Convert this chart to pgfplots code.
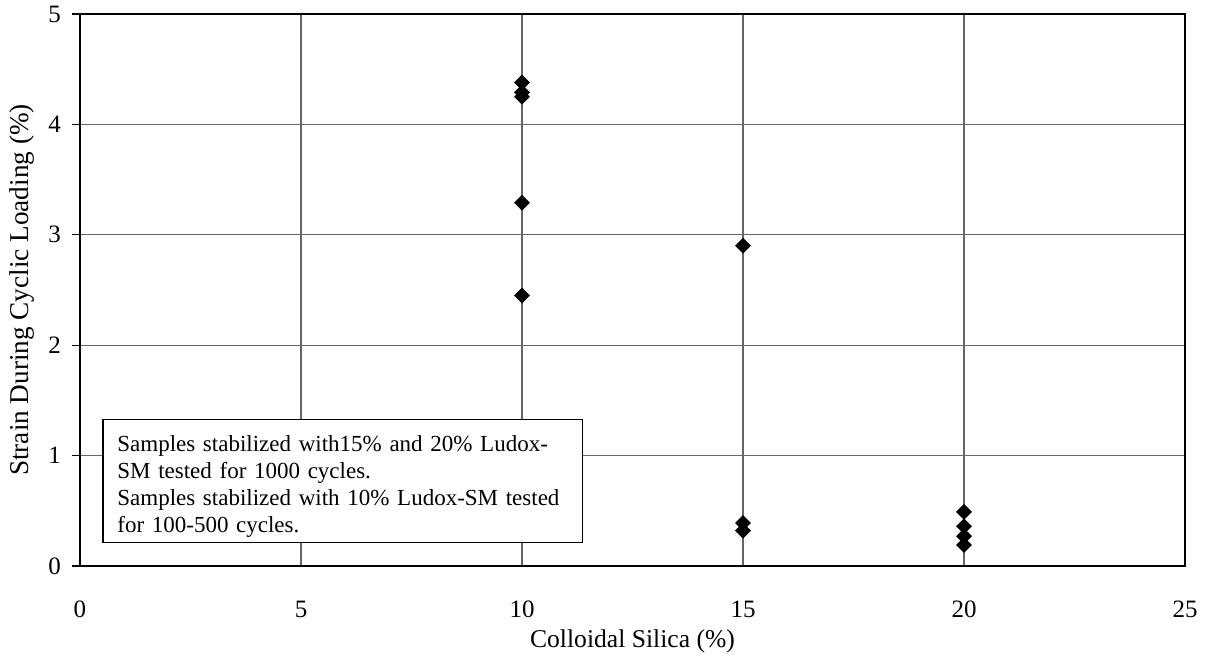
\documentclass[border=0pt]{standalone}
\usepackage{pgfplots}
\pgfplotsset{compat=1.18}
\usepackage{fontspec}
\setmainfont{Liberation Serif}
\usetikzlibrary{calc}
\begin{document}
\begin{tikzpicture}
\begin{axis}[
  scale only axis,
  width=552.5pt, height=276pt,
  xmin=0, xmax=25, ymin=0, ymax=5,
  xtick={0,5,10,15,20,25},
  ytick={0,1,2,3,4,5},
  ytick pos=left,
  grid=major,
  major grid style={black!60, line width=0.6pt},
  axis line style={black, line width=0.7pt},
  tick align=outside,
  x tick style={draw=none},
  y tick style={black, line width=0.6pt},
  major tick length=4pt,
  /pgf/number format/assume math mode=true,
  tick label style={font=\fontsize{12.5}{14}\selectfont},
  xticklabel style={yshift=-10pt},
  yticklabel style={xshift=-2pt},
  xlabel={Colloidal Silica (\%)},
  ylabel={Strain During Cyclic Loading (\%)},
  xlabel style={font=\fontsize{12.8}{14}\selectfont, yshift=1pt},
  ylabel style={font=\fontsize{13.6}{15}\selectfont, yshift=0pt},
  clip=false,
]
\addplot[only marks, mark=square*, mark size=2.6pt, mark options={rotate=45, fill=black, draw=black}] coordinates {
 (10,4.38) (10,4.29) (10,4.25) (10,3.29) (10,2.45)
 (15,2.90) (15,0.39) (15,0.32)
 (20,0.49) (20,0.36) (20,0.27) (20,0.19)
};
\draw[black, line width=0.6pt, fill=white] (axis cs:0.52,0.21) rectangle (axis cs:11.36,1.33);
\node[anchor=north west, inner xsep=7pt, inner ysep=8pt,
  text width=225pt, align=left,
  font=\fontsize{11.5}{13.5}\selectfont] at (axis cs:0.52,1.33)
  {Samples stabilized with15\% and 20\% Ludox-\\SM tested for 1000 cycles.\\Samples stabilized with 10\% Ludox-SM tested\\for 100-500 cycles.};
\end{axis}
\pgfresetboundingbox
\path[use as bounding box] ($(current axis.south west)+(-40pt,-49pt)$) rectangle ($(current axis.north east)+(13pt,7pt)$);
\end{tikzpicture}
\end{document}
